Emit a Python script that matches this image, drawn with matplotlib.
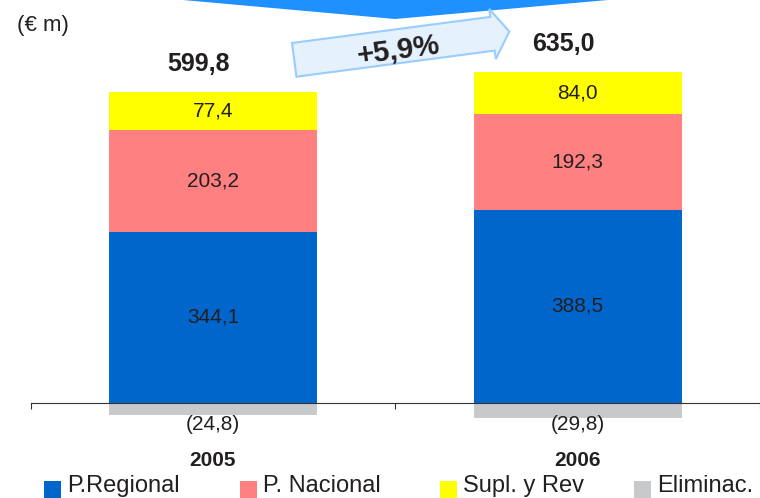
import numpy as np
import matplotlib
matplotlib.use("Agg")
from matplotlib import pyplot as plt
from matplotlib.patches import Polygon, Rectangle

plt.rcParams['font.family'] = ['Liberation Sans', 'DejaVu Sans']

# data (EUR m)
years = ["2005", "2006"]
regional = [344.1, 388.5]
nacional = [203.2, 192.3]
supl = [77.4, 84.0]
elim = [-24.8, -29.8]
totals = ["599,8", "635,0"]
growth = "+5,9%"
series_names = ["P.Regional", "P. Nacional", "Supl. y Rev", "Eliminac."]
colors = ["#0066CC", "#FF8080", "#FFFF00", "#C8C9CB"]
txt = "#231F20"

def fmt(v):
    return ("%.1f" % abs(v)).replace(".", ",")

fig = plt.figure(figsize=(7.6, 4.98), dpi=100)
ax = fig.add_axes([0, 0, 1, 1])
ax.set_xlim(-0.584, 1.481)
ax.set_ylim(-190.8, 809.2)

x = np.arange(len(years))
w = 0.571
reg = np.array(regional)
nac = np.array(nacional)
sup = np.array(supl)
ax.bar(x, reg, w, color=colors[0], zorder=2)
ax.bar(x, nac, w, bottom=reg, color=colors[1], zorder=2)
ax.bar(x, sup, w, bottom=reg + nac, color=colors[2], zorder=2)
ax.bar(x, elim, w, color=colors[3], zorder=1)

# axis line with ticks between categories
for s in ['left', 'right', 'top']:
    ax.spines[s].set_visible(False)
ax.spines['bottom'].set_position(('data', 0))
ax.spines['bottom'].set_bounds(-0.5, 2.0)
ax.spines['bottom'].set_color('#333333')
ax.spines['bottom'].set_zorder(3)
ax.set_xticks([-0.5, 0.5, 1.5])
ax.set_xticklabels([])
ax.tick_params(axis='x', direction='out', length=4.5, color='#333333')
ax.set_yticks([])
ax.patch.set_visible(False)

# segment labels
for i in range(len(years)):
    ax.text(x[i], reg[i] / 2, fmt(reg[i]), ha='center', va='center', fontsize=15, color=txt)
    ax.text(x[i], reg[i] + nac[i] / 2, fmt(nac[i]), ha='center', va='center', fontsize=15, color=txt)
    ax.text(x[i], reg[i] + nac[i] + sup[i] / 2, fmt(sup[i]), ha='center', va='center', fontsize=15, color=txt)
    ax.text(x[i], -43, "(" + fmt(elim[i]) + ")", ha='center', va='center', fontsize=15, color=txt)
    ax.text(x[i], -116.5, years[i], ha='center', va='center', fontsize=15, fontweight='bold', color=txt)
    top = reg[i] + nac[i] + sup[i]
    ax.text(x[i] - 0.04, top + 56, totals[i], ha='center', va='center', fontsize=18, fontweight='bold', color=txt)

# overlay in pixel coordinates for the decorations
ov = fig.add_axes([0, 0, 1, 1], zorder=5)
ov.set_xlim(0, 760)
ov.set_ylim(498, 0)
ov.axis('off')
ov.patch.set_visible(False)

ov.text(43, 25, "(\u20ac m)", ha='center', va='center', fontsize=16, color=txt)

# blue banner at top
ov.add_patch(Polygon([(183, -5), (183, 0), (395, 19), (608, 0), (608, -5)],
                     closed=True, facecolor='#1E90FF', edgecolor='none'))

# growth arrow
a = np.deg2rad(7.5)
u = np.array([np.cos(a), -np.sin(a)])
n = np.array([np.sin(a), np.cos(a)])
o = np.array([292, 43])
local = [(0, 0), (200, 0), (200, -8), (217, 17), (200, 42.5), (200, 34), (0, 34)]
pts = [o + s * u + t * n for s, t in local]
ov.add_patch(Polygon(pts, closed=True, facecolor='#E5F1FD', edgecolor='#99CCFF', linewidth=1.5))
ov.text(398, 50, growth, ha='center', va='center', rotation=7.5, rotation_mode='anchor',
        fontsize=21, fontweight='bold', color=txt)

# legend
sq_x = [44, 240, 440, 634]
for k in range(len(series_names)):
    ov.add_patch(Rectangle((sq_x[k], 481), 17, 17, facecolor=colors[k], edgecolor='none'))
    ov.text(sq_x[k] + 23, 492, series_names[k], ha='left', va='baseline', fontsize=17, color=txt)

fig.savefig('out.png', dpi=100)
